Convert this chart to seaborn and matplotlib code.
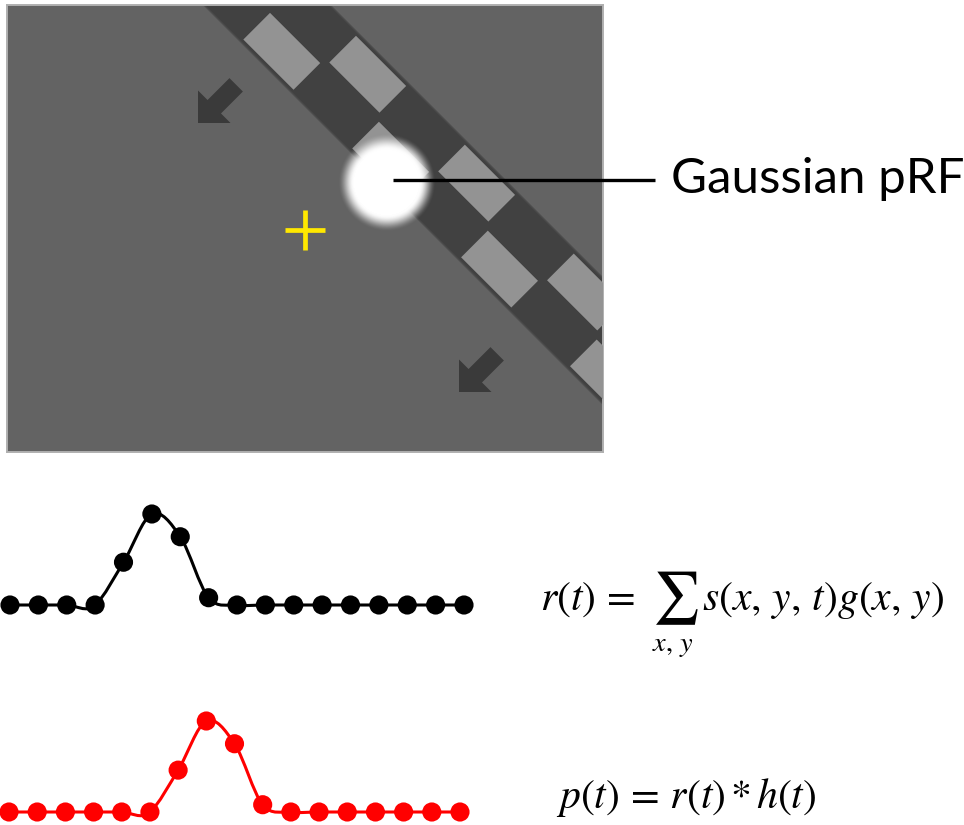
import numpy as np
import matplotlib
matplotlib.use("Agg")
import matplotlib.pyplot as plt
from matplotlib.path import Path
from matplotlib.patches import PathPatch, Polygon, FancyArrow
import seaborn as sns

# ---- data -------------------------------------------------------------
# time samples of the predicted neural response r(t) and the
# HRF-convolved prediction p(t) (normalised, peak = 1)
t_samples = list(range(17))
r_values = [0, 0, 0, 0, 0.47, 1.0, 0.75, 0.08, 0, 0, 0, 0, 0, 0, 0, 0, 0]
p_values = [0, 0, 0, 0, 0, 0, 0.46, 1.0, 0.75, 0.08, 0, 0, 0, 0, 0, 0, 0]

label_prf = "Gaussian pRF"
eq_r_lhs = r"$r(t)\, =$"
eq_r_sum = r"$\sum$"
eq_r_sub = r"$x,\, y$"
eq_r_rhs = r"$s(x,\, y,\, t)g(x,\, y)$"
eq_p = r"$p(t)\, =\, r(t)\,{*}\,h(t)$"

# ---- style ------------------------------------------------------------
sns.set_theme(style="white")
plt.rcParams["font.family"] = ["Lato", "DejaVu Sans"]
plt.rcParams["mathtext.fontset"] = "stix"

W, H = 964, 825
fig = plt.figure(figsize=(W / 100, H / 100), dpi=100)
fig.patch.set_facecolor("white")


def px_axes(left, top, width, height, **kw):
    return fig.add_axes([left / W, 1 - (top + height) / H, width / W, height / H], **kw)


# ---- stimulus frame ---------------------------------------------------
X0, X1, Y0, Y1 = 7, 603, 5, 452
ax_s = px_axes(X0, Y0, X1 - X0, Y1 - Y0)
ax_s.set_xlim(X0, X1)
ax_s.set_ylim(Y1, Y0)
ax_s.set_xticks([])
ax_s.set_yticks([])
ax_s.set_facecolor("#636363")
for sp in ax_s.spines.values():
    sp.set_visible(True)
    sp.set_color("#b0b0b0")
    sp.set_linewidth(1.4)

s2 = np.sqrt(2.0)


def uv_to_xy(u, v):
    return ((u + v) / s2, (u - v) / s2)


def band_poly(u0, u1, v0, v1):
    return [uv_to_xy(u0, v0), uv_to_xy(u1, v0), uv_to_xy(u1, v1), uv_to_xy(u0, v1)]


# bar: diagonal band sweeping across the field
V_LO, V_HI = 140.7, 229.8
V_MID = 0.5 * (V_LO + V_HI)
ax_s.add_patch(Polygon(band_poly(-200, 1000, V_LO, V_HI), closed=True,
                       facecolor="#414141", edgecolor="#4c4c4c", lw=1.0, zorder=2))

# checkerboard elements inside the bar
CELL = 77.0
INSET_U, INSET_V = 3.0, 3.4
for k in range(-2, 14):
    u0 = 43.0 + k * CELL
    if k % 2 == 0:
        v0, v1 = V_LO + INSET_V, V_MID - INSET_V
    else:
        v0, v1 = V_MID + INSET_V, V_HI - INSET_V
    ax_s.add_patch(Polygon(band_poly(u0 + INSET_U, u0 + CELL - INSET_U, v0, v1),
                           closed=True, facecolor="#939393", edgecolor="none", zorder=3))

# motion direction arrows
ARROW_LEN, HEAD_LEN, HEAD_W, SHAFT_W = 54, 23, 46, 19
for tip in [(198, 123), (459, 392)]:
    d = ARROW_LEN / s2
    ax_s.add_patch(FancyArrow(tip[0] + d, tip[1] - d, -d, d, width=SHAFT_W,
                              head_width=HEAD_W, head_length=HEAD_LEN,
                              length_includes_head=True, facecolor="#3a3a3a",
                              edgecolor="none", zorder=4))

# fixation cross
FIX, ARM = (305, 230), 20
ax_s.plot([FIX[0] - ARM, FIX[0] + ARM], [FIX[1], FIX[1]], color="#ffe800", lw=3.4,
          solid_capstyle="butt", zorder=6)
ax_s.plot([FIX[0], FIX[0]], [FIX[1] - ARM, FIX[1] + ARM], color="#ffe800", lw=3.4,
          solid_capstyle="butt", zorder=6)

# Gaussian pRF: soft white disc
PRF_C, R_IN, R_OUT = (387, 183), 33, 49
gx = np.arange(X0, X1) + 0.5
gy = np.arange(Y0, Y1) + 0.5
GX, GY = np.meshgrid(gx, gy)
rr = np.hypot(GX - PRF_C[0], GY - PRF_C[1])
tt = np.clip((R_OUT - rr) / (R_OUT - R_IN), 0, 1)
alpha = tt * tt * (3 - 2 * tt)
rgba = np.ones(GX.shape + (4,))
rgba[..., 3] = alpha
ax_s.imshow(rgba, extent=(X0, X1, Y1, Y0), origin="upper", interpolation="bilinear",
            zorder=5, aspect="auto")

# ---- overlay for label, leader line and equations ---------------------
ax_o = fig.add_axes([0, 0, 1, 1], zorder=10)
ax_o.set_xlim(0, W)
ax_o.set_ylim(H, 0)
ax_o.axis("off")
ax_o.patch.set_alpha(0)

ax_o.plot([393, 655], [180, 180], color="black", lw=2.4, solid_capstyle="butt")
ax_o.text(671, 193, label_prf, fontsize=35.5, fontweight="normal", color="black",
          ha="left", va="baseline", family=["Lato", "DejaVu Sans"])

EQ_FS = 30
ax_o.text(540, 610, eq_r_lhs, fontsize=EQ_FS, ha="left", va="baseline", color="black")
ax_o.text(675, 611, eq_r_sum, fontsize=EQ_FS * 1.25, ha="center", va="baseline", color="black")
ax_o.text(673, 651, eq_r_sub, fontsize=EQ_FS * 0.68, ha="center", va="baseline", color="black")
ax_o.text(702, 610, eq_r_rhs, fontsize=EQ_FS, ha="left", va="baseline", color="black")
ax_o.text(556, 808, eq_p, fontsize=EQ_FS, ha="left", va="baseline", color="black")


# ---- time courses -----------------------------------------------------
def smooth_path(xs, ys):
    xs = np.asarray(xs, float)
    ys = np.asarray(ys, float)
    n = len(xs)
    m = np.zeros(n)
    for i in range(n):
        if i == 0 or i == n - 1:
            m[i] = 0.0
        elif ys[i] == ys[i - 1] and ys[i + 1] != ys[i]:
            m[i] = 0.6 * (ys[i + 1] - ys[i])
        else:
            m[i] = 0.5 * (ys[i + 1] - ys[i - 1])
    verts = [(xs[0], ys[0])]
    codes = [Path.MOVETO]
    for i in range(n - 1):
        dx = xs[i + 1] - xs[i]
        verts += [(xs[i] + dx / 3, ys[i] + m[i] / 3),
                  (xs[i + 1] - dx / 3, ys[i + 1] - m[i + 1] / 3),
                  (xs[i + 1], ys[i + 1])]
        codes += [Path.CURVE4] * 3
    return Path(verts, codes)


def series_axes(x_first, x_last, y_base, peak_px):
    step = (x_last - x_first) / (len(t_samples) - 1)
    xlo, xhi = -0.5, len(t_samples) - 0.5
    ylo, yhi = -0.3, 1.3
    left = x_first + xlo * step
    width = (xhi - xlo) * step
    top = y_base - yhi * peak_px
    height = (yhi - ylo) * peak_px
    ax = px_axes(left, top, width, height)
    ax.set_xlim(xlo, xhi)
    ax.set_ylim(ylo, yhi)
    ax.axis("off")
    ax.patch.set_alpha(0)
    return ax


for vals, col, geom in [(r_values, "black", (10, 464, 605, 91)),
                        (p_values, "#ff0000", (9, 460, 812, 91))]:
    ax = series_axes(*geom)
    ax.add_patch(PathPatch(smooth_path(t_samples, vals), facecolor="none",
                           edgecolor=col, lw=2.2, clip_on=False, zorder=2))
    sns.scatterplot(x=t_samples, y=vals, ax=ax, color=col, s=190, edgecolor="none",
                    linewidth=0, zorder=3, clip_on=False, legend=False)

fig.savefig("out.png", dpi=100, facecolor="white")
